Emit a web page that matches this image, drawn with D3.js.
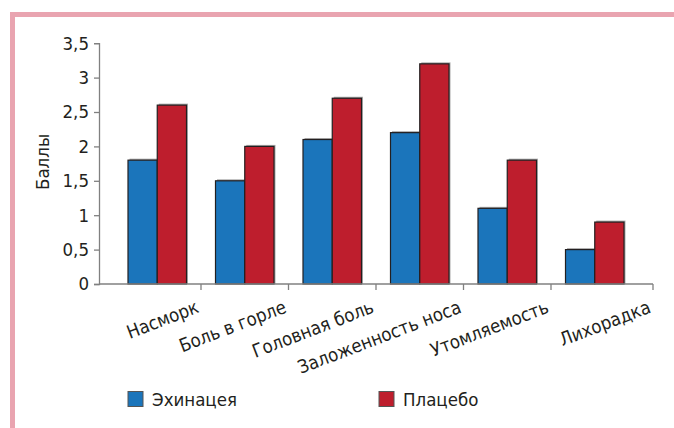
<!DOCTYPE html>
<html><head><meta charset="utf-8">
<script src="https://cdn.jsdelivr.net/npm/d3@7"></script>
<style>body{margin:0;background:#fff}svg{display:block}</style>
</head><body>
<script>
const categories = ["Насморк","Боль в горле","Головная боль","Заложенность носа","Утомляемость","Лихорадка"];
const seriesNames = ["Эхинацея","Плацебо"];
const echinacea = [1.8,1.5,2.1,2.2,1.1,0.5];
const placebo = [2.6,2.0,2.7,3.2,1.8,0.9];
const yTicks = [0,0.5,1,1.5,2,2.5,3,3.5];
const yLabel = "Баллы";
const colors = ["#1b75bb","#be1e2d"];

const W=674,H=428;
const font = "'DejaVu Sans Condensed','Liberation Sans Narrow',sans-serif";
const fs = 18.5;
const svg = d3.select("body").append("svg").attr("width",W).attr("height",H);

// frame
svg.append("line").attr("x1",12.5).attr("x2",W).attr("y1",14.5).attr("y2",14.5).attr("stroke","#e9a4b0").attr("stroke-width",5);
svg.append("line").attr("x1",12.5).attr("x2",12.5).attr("y1",12).attr("y2",H).attr("stroke","#e9a4b0").attr("stroke-width",5);

const axisLeft=99, axisRight=653, y0=284, yTop=43.2;
const x = d3.scaleBand().domain(categories).range([113.5,638.5]).paddingInner(0).paddingOuter(0);
const inner = d3.scaleBand().domain(seriesNames).range([14.5, x.bandwidth()-14.5]);
const y = d3.scaleLinear().domain([0,3.5]).range([y0,yTop]);

const data = categories.map((c,i)=>({c, vals:[echinacea[i],placebo[i]]}));

const g = svg.append("g");
const groups = g.selectAll("g.grp").data(data).join("g").attr("transform",d=>`translate(${x(d.c)},0)`);
groups.selectAll("rect.sh").data(d=>d.vals).join("rect")
  .attr("x",(v,i)=>inner(seriesNames[i])+1.5).attr("y",v=>y(v)-1.5)
  .attr("width",inner.bandwidth()).attr("height",v=>y0-y(v)+1.5)
  .attr("fill","#aaa");
groups.selectAll("rect.bar").data(d=>d.vals).join("rect")
  .attr("x",(v,i)=>inner(seriesNames[i])).attr("y",v=>y(v))
  .attr("width",inner.bandwidth()).attr("height",v=>y0-y(v))
  .attr("fill",(v,i)=>colors[i]).attr("stroke","#231f20").attr("stroke-width",1.2);

// y axis
const yAxis = svg.append("g").attr("transform",`translate(${axisLeft},0)`)
  .call(d3.axisLeft(y).tickValues(yTicks).tickSize(5).tickPadding(5)
    .tickFormat(d=>String(d).replace(".",",")));
yAxis.select(".domain").attr("stroke","#808080").attr("stroke-width",1.3);
yAxis.selectAll(".tick line").attr("stroke","#808080").attr("stroke-width",1.3);
yAxis.selectAll("text").attr("font-family",font).attr("font-size",fs).attr("fill","#231f20");

// x axis
svg.append("line").attr("x1",axisLeft).attr("x2",axisRight).attr("y1",y0).attr("y2",y0).attr("stroke","#808080").attr("stroke-width",1.3);
const bounds = categories.slice(1).map(c=>x(c)).concat([axisRight]);
svg.selectAll("line.xt").data(bounds).join("line")
  .attr("x1",d=>d).attr("x2",d=>d).attr("y1",y0).attr("y2",y0+6)
  .attr("stroke","#808080").attr("stroke-width",1.3);
const labelX = categories.map((c,i)=> i<categories.length-1 ? x(c)+x.bandwidth() : axisRight);
svg.selectAll("text.xl").data(categories).join("text")
  .attr("transform",(d,i)=>`translate(${labelX[i]-1},${y0+28}) rotate(-21)`)
  .attr("text-anchor","end").attr("font-family",font).attr("font-size",fs).attr("fill","#231f20")
  .text(d=>d);

// y label
svg.append("text").attr("transform",`translate(49,162) rotate(-90)`).attr("text-anchor","middle")
  .attr("font-family",font).attr("font-size",fs).attr("fill","#231f20").text(yLabel);

// legend
const legX=[128,379];
seriesNames.forEach((s,i)=>{
  svg.append("rect").attr("x",legX[i]).attr("y",391.5).attr("width",15).attr("height",15)
    .attr("fill",colors[i]).attr("stroke","#555").attr("stroke-width",1);
  svg.append("text").attr("x",legX[i]+24).attr("y",406).attr("font-family",font).attr("font-size",fs)
    .attr("fill","#231f20").text(s);
});
</script>
</body></html>
